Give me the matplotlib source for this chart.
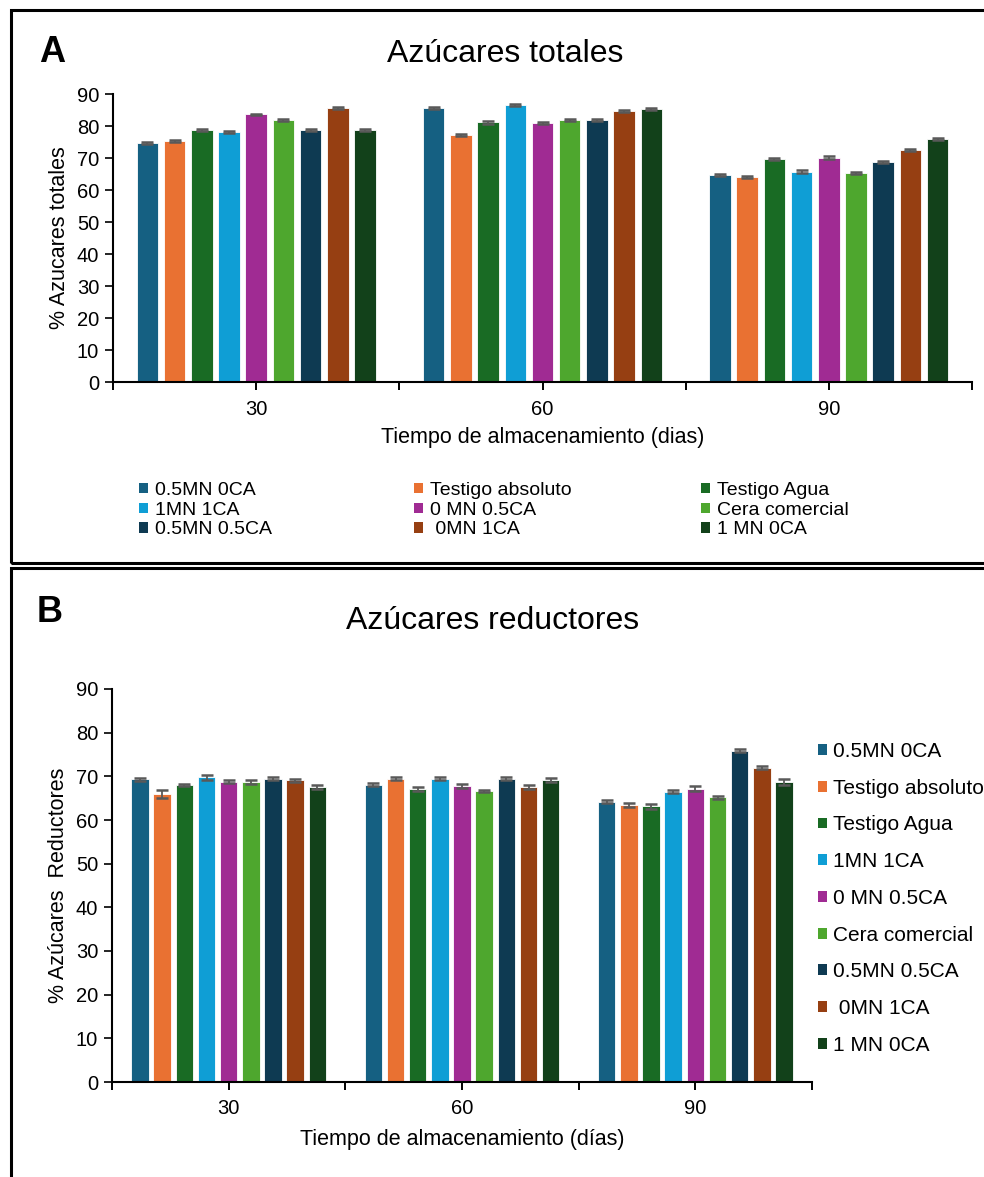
import matplotlib.pyplot as plt
import numpy as np
from matplotlib.patches import Patch, Rectangle

plt.rcParams["font.family"] = ["Liberation Sans", "DejaVu Sans"]

# Data
days = ["30", "60", "90"]
treatments = [
    "0.5MN 0CA", "Testigo absoluto", "Testigo Agua",
    "1MN 1CA", "0 MN 0.5CA", "Cera comercial",
    "0.5MN 0.5CA", " 0MN 1CA", "1 MN 0CA",
]
colors = [
    "#156082", "#E97132", "#196B24",
    "#0F9ED5", "#A02B93", "#4EA72E",
    "#0E3A52", "#963F12", "#12411A",
]

# Azúcares totales (rows: treatments, cols: 30, 60, 90 days)
totales = [
    [74.8, 85.7, 64.6],
    [75.4, 77.3, 64.2],
    [78.7, 81.1, 69.7],
    [78.1, 86.6, 65.7],
    [83.6, 80.8, 70.1],
    [81.9, 81.8, 65.2],
    [78.8, 81.8, 68.8],
    [85.6, 84.7, 72.4],
    [78.7, 85.3, 75.9],
]
totales_err = [
    [0.3, 0.3, 0.3],
    [0.3, 0.3, 0.3],
    [0.3, 0.4, 0.4],
    [0.4, 0.4, 0.4],
    [0.3, 0.3, 0.4],
    [0.4, 0.3, 0.3],
    [0.4, 0.3, 0.4],
    [0.3, 0.4, 0.3],
    [0.3, 0.3, 0.3],
]

# Azúcares reductores
reductores = [
    [69.3, 68.1, 64.2],
    [65.9, 69.5, 63.4],
    [68.0, 67.1, 63.1],
    [69.8, 69.5, 66.5],
    [68.8, 67.8, 67.2],
    [68.7, 66.6, 65.2],
    [69.5, 69.5, 75.9],
    [69.1, 67.6, 72.0],
    [67.6, 69.2, 68.7],
]
reductores_err = [
    [0.4, 0.3, 0.4],
    [0.9, 0.4, 0.4],
    [0.3, 0.4, 0.5],
    [0.6, 0.3, 0.4],
    [0.4, 0.5, 0.5],
    [0.4, 0.3, 0.4],
    [0.3, 0.4, 0.3],
    [0.3, 0.4, 0.4],
    [0.4, 0.4, 0.6],
]

W, H = 984, 1177
fig = plt.figure(figsize=(W / 100, H / 100), dpi=100)
fig.patch.set_facecolor("white")


def draw(ax, values, errors, ylabel, xlabel, xpad, lpad):
    x = np.arange(len(days))
    n = len(treatments)
    pitch = 0.095
    width = 0.075
    for i in range(n):
        pos = x + (i - (n - 1) / 2) * pitch
        ax.bar(pos, values[i], width, color=colors[i], edgecolor="white",
               linewidth=0.6, zorder=2)
        ax.errorbar(pos, values[i], yerr=errors[i], fmt="none",
                    ecolor="#595959", elinewidth=1.3, capsize=4.5,
                    capthick=1.8, zorder=3)
    ax.set_xlim(-0.5, 2.5)
    ax.set_ylim(0, 90)
    ax.set_yticks(np.arange(0, 91, 10))
    ticks = np.arange(-0.5, 2.51, 0.5)
    ax.set_xticks(ticks)
    ax.set_xticklabels(["", days[0], "", days[1], "", days[2], ""])
    ax.spines[["top", "right"]].set_visible(False)
    for s in ("left", "bottom"):
        ax.spines[s].set_linewidth(1.5)
    ax.tick_params(axis="x", length=6, width=1.4, pad=xpad, labelsize=14.5)
    ax.tick_params(axis="y", length=6, width=1.2, pad=4, labelsize=14.5)
    ax.set_ylabel(ylabel, fontsize=15.5, labelpad=5)
    ax.set_xlabel(xlabel, fontsize=15.5, labelpad=lpad)


ax1 = fig.add_axes([113 / W, 1 - 382 / H, (972 - 113) / W, (382 - 94) / H])
draw(ax1, totales, totales_err, "% Azucares totales",
     "Tiempo de almacenamiento (dias)", 7, 6)

ax2 = fig.add_axes([112 / W, 1 - 1082 / H, (812 - 112) / W, (1082 - 689) / H])
draw(ax2, reductores, reductores_err, "% Azúcares  Reductores",
     "Tiempo de almacenamiento (días)", 6, 8)

# panel frames (right side runs off the canvas like the original)
fig.add_artist(Rectangle((11 / W, 1 - 563 / H), 1.2, (563 - 10) / H,
                         transform=fig.transFigure, fill=False,
                         edgecolor="black", linewidth=2.2))
fig.add_artist(Rectangle((11 / W, -0.1), 1.2, (1 - 568 / H) + 0.1,
                         transform=fig.transFigure, fill=False,
                         edgecolor="black", linewidth=2.2))

fig.text(52 / W, 1 - 52 / H, "A", fontsize=26, fontweight="bold",
         ha="center", va="center")
fig.text(50 / W, 1 - 612 / H, "B", fontsize=26, fontweight="bold",
         ha="center", va="center")
fig.text(505 / W, 1 - 54 / H, "Azúcares totales", fontsize=23,
         ha="center", va="center")
fig.text(493 / W, 1 - 621 / H, "Azúcares reductores", fontsize=23,
         ha="center", va="center")

handles = [Patch(facecolor=c, edgecolor="none") for c in colors]

# top legend: three columns filled row by row, as in the reference
col_x = [139, 414, 701]
for c in range(3):
    idx = [c, c + 3, c + 6]
    fig.legend([handles[i] for i in idx], [treatments[i] for i in idx],
               loc="upper left", bbox_to_anchor=(col_x[c] / W, 1 - 482 / H),
               frameon=False, fontsize=14, handlelength=0.45,
               handleheight=0.45, handletextpad=0.35, labelspacing=0.14,
               borderpad=0, borderaxespad=0)

# bottom legend: single column at the right
fig.legend(handles, treatments, loc="upper left",
           bbox_to_anchor=(818 / W, 1 - 742 / H), frameon=False,
           fontsize=15, handlelength=0.42, handleheight=0.42,
           handletextpad=0.3, labelspacing=0.85, borderpad=0,
           borderaxespad=0)

fig.savefig("out.png", dpi=100, facecolor="white")
